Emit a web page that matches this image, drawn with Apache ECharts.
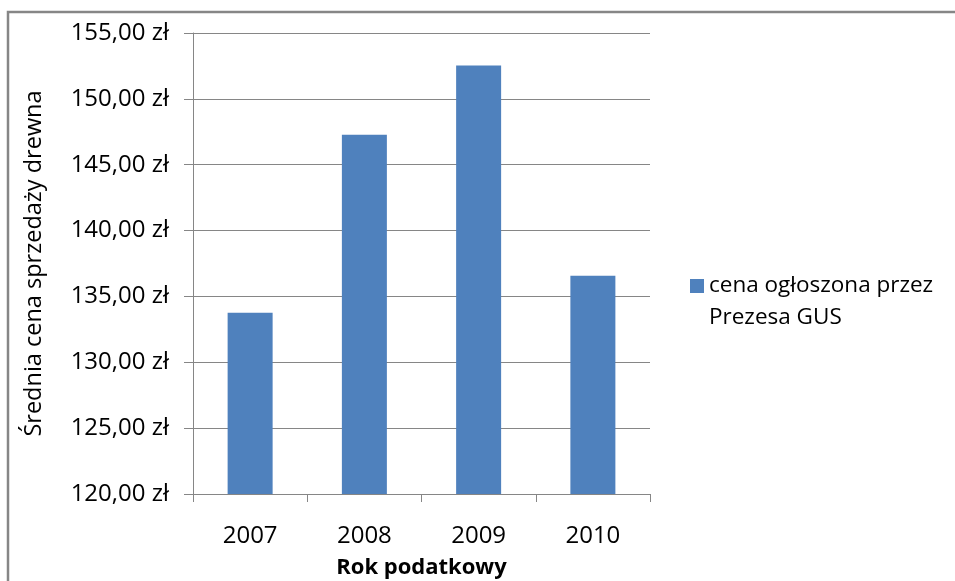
<!DOCTYPE html>
<html>
<head>
<meta charset="utf-8">
<script src="https://cdn.jsdelivr.net/npm/echarts@6/dist/echarts.min.js"></script>
<style>html,body{margin:0;padding:0;background:#fff}#c{width:955px;height:581px}</style>
</head>
<body>
<div id="c"></div>
<script>
var categories = ['2007', '2008', '2009', '2010'];
var seriesName = 'cena ogłoszona przez Prezesa GUS';
var legendLines = ['cena ogłoszona przez', 'Prezesa GUS'];
var values = [133.76, 147.28, 152.53, 136.57];
var yMin = 120, yMax = 155, yStep = 5;
var xTitle = 'Rok podatkowy';
var yTitle = 'Średnia cena sprzedaży drewna';

var FONT = 'Open Sans';
var chart = echarts.init(document.getElementById('c'), null, {renderer: 'canvas'});
chart.setOption({
  animation: false,
  backgroundColor: '#ffffff',
  graphic: [{
    type: 'rect', silent: true,
    shape: {x: 8, y: 12, width: 1000, height: 1000},
    style: {fill: 'none', stroke: '#868686', lineWidth: 2.5}
  }],
  grid: {left: 193, right: 305, top: 33, bottom: 87, containLabel: false, outerBoundsMode: 'none'},
  legend: {
    left: 690, top: 238, padding: 0,
    itemWidth: 14, itemHeight: 14,
    icon: 'rect',
    data: [seriesName],
    formatter: function () { return ' \n' + legendLines.join('\n'); },
    textStyle: {fontFamily: FONT, fontSize: 22.5, color: '#000', lineHeight: 32}
  },
  xAxis: {
    type: 'category', data: categories,
    name: xTitle, nameLocation: 'middle', nameGap: 63,
    nameTextStyle: {fontFamily: FONT, fontSize: 22, fontWeight: 'bold', color: '#000'},
    axisLine: {show: true, lineStyle: {color: '#868686', width: 1}},
    axisTick: {show: true, alignWithLabel: false, length: 8, lineStyle: {color: '#868686'}},
    axisLabel: {fontFamily: FONT, fontSize: 24, color: '#000', margin: 30},
    splitLine: {show: false}
  },
  yAxis: {
    type: 'value', min: yMin, max: yMax, interval: yStep,
    name: yTitle, nameLocation: 'middle', nameGap: 147, nameRotate: 90,
    nameTextStyle: {fontFamily: FONT, fontSize: 23.5, color: '#000'},
    axisLine: {show: true, lineStyle: {color: '#868686', width: 1}},
    axisTick: {show: true, inside: false, length: 9, lineStyle: {color: '#868686'}},
    axisLabel: {fontFamily: FONT, fontSize: 24, color: '#000', margin: 24,
      formatter: function (v) { return v.toFixed(2).replace('.', ',') + ' zł'; }},
    splitLine: {show: true, lineStyle: {color: '#868686', width: 1}}
  },
  series: [{
    name: seriesName, type: 'bar', data: values,
    barWidth: 45,
    itemStyle: {color: '#4F81BD'}
  }]
});
</script>
</body>
</html>
